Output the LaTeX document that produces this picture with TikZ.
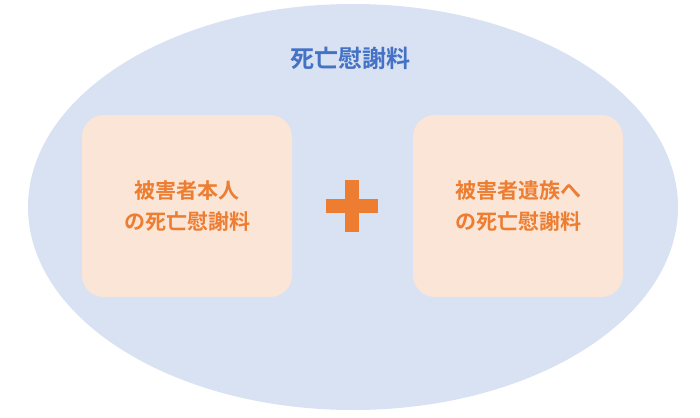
\documentclass[tikz,border=0pt]{standalone}
\usepackage{fontspec}
\newfontfamily\cjk{Noto Sans CJK JP Bold}
\usetikzlibrary{positioning,shapes.geometric}
\definecolor{bgblue}{HTML}{D9E2F3}
\definecolor{boxpeach}{HTML}{FBE5D6}
\definecolor{txtorange}{HTML}{ED7D31}
\definecolor{txtblue}{HTML}{4472C4}
\tikzset{
  partbox/.style={fill=boxpeach,rounded corners=22pt,minimum width=210pt,minimum height=182pt,
    text=txtorange,font=\cjk\fontsize{21}{31}\selectfont,align=center},
}
\begin{document}
\begin{tikzpicture}[x=1pt,y=-1pt]
  \useasboundingbox (0,0) rectangle (700,417);
  \node[ellipse,fill=bgblue,minimum width=650pt,minimum height=406pt] (whole) at (353,207) {};
  \node[text=txtblue,font=\cjk\fontsize{24}{28}\selectfont] (title) at (350,58) {死亡慰謝料};
  \node[partbox] (victim) at (187,206) {被害者本人\\の死亡慰謝料};
  \node[partbox] (family) at (518,206) {被害者遺族へ\\の死亡慰謝料};
  \fill[txtorange] (345,180) rectangle (359,232);
  \fill[txtorange] (326,199) rectangle (378,213);
\end{tikzpicture}
\end{document}
